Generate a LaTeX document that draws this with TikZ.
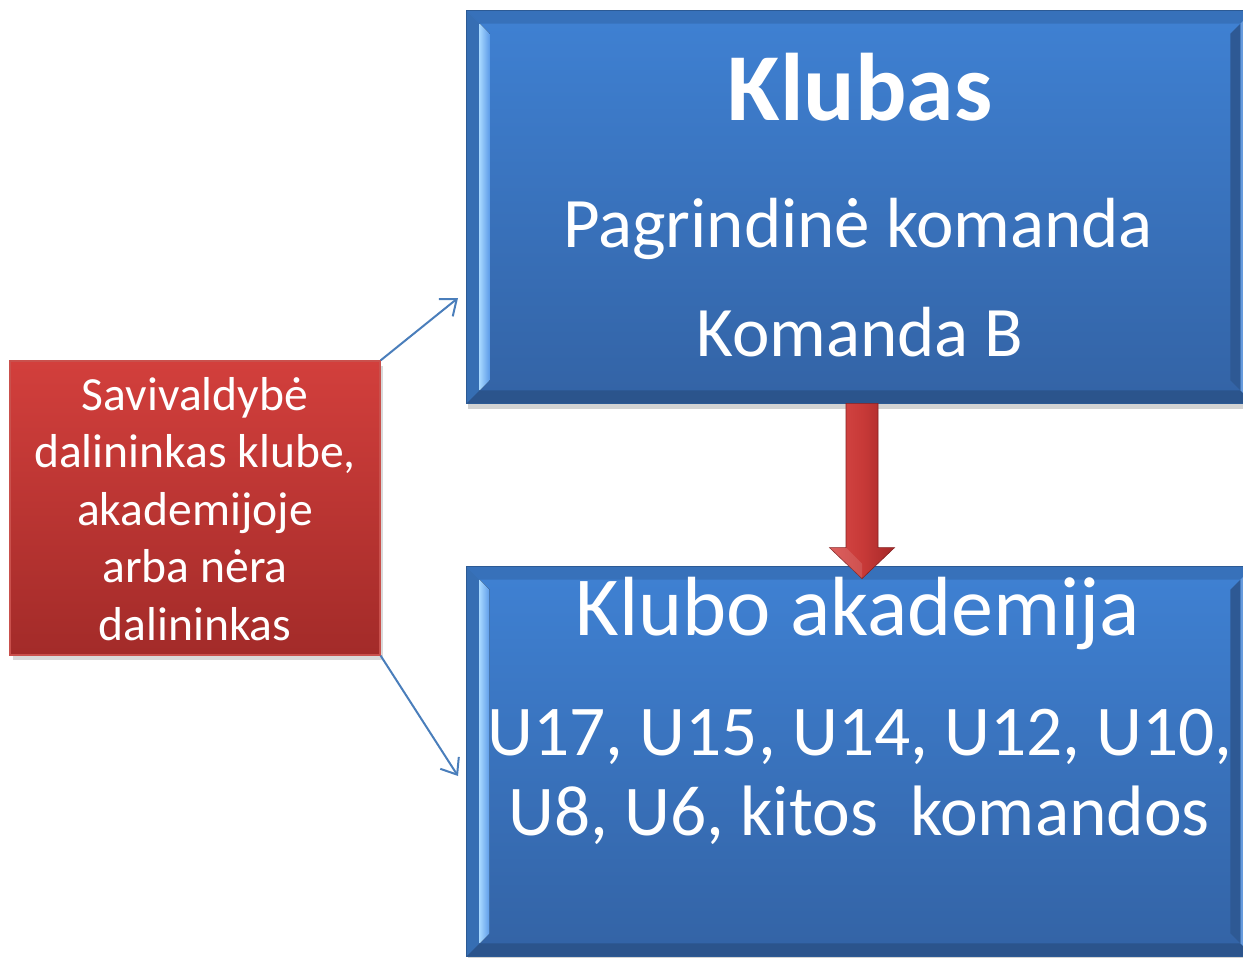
\documentclass[tikz,border=0pt]{standalone}
\usepackage{fontspec}
\setmainfont{Carlito}
\usetikzlibrary{calc,shadows,arrows.meta}
\definecolor{bluetop}{HTML}{3F81D3}
\definecolor{bluebot}{HTML}{3363A5}
\definecolor{blueedge}{HTML}{2C5A94}
\definecolor{bluelight}{HTML}{A5D6FF}
\definecolor{bluelight2}{HTML}{5C9BE8}
\definecolor{redtop}{HTML}{D23F3C}
\definecolor{redbot}{HTML}{A32B29}
\definecolor{rededge}{HTML}{C9504C}
\definecolor{arrowblue}{HTML}{4A7EBB}
\definecolor{arrowredL}{HTML}{D84A48}
\definecolor{arrowredM}{HTML}{C83A38}
\definecolor{arrowredR}{HTML}{A52828}
\newcommand{\mybevel}[1]{%
  \fill[blueedge!40!bluetop] (#1.north west) -- (#1.north east) -- ($(#1.north east)+(-13,13)$) -- ($(#1.north west)+(13,13)$) -- cycle;
  \fill[bluetop!85!black] (#1.north west) -- ($(#1.north west)+(13,13)$) -- ($(#1.south west)+(13,-13)$) -- (#1.south west) -- cycle;
  \fill[bluebot!85!black] (#1.south west) -- (#1.south east) -- ($(#1.south east)+(-13,-13)$) -- ($(#1.south west)+(13,-13)$) -- cycle;
  \fill[bluetop!80!white] (#1.north east) -- (#1.south east) -- ($(#1.south east)+(-13,-13)$) -- ($(#1.north east)+(-13,13)$) -- cycle;
  \fill[left color=bluelight, right color=bluelight2] ($(#1.north west)+(13,13)$) -- ($(#1.north west)+(23,23)$) -- ($(#1.south west)+(23,-23)$) -- ($(#1.south west)+(13,-13)$) -- cycle;
  \fill[bluebot!90!black] ($(#1.north east)+(-13,13)$) -- ($(#1.north east)+(-23,23)$) -- ($(#1.south east)+(-23,-23)$) -- ($(#1.south east)+(-13,-13)$) -- cycle;
  \draw[blueedge, line width=0.6pt] (#1.north west) rectangle (#1.south east);
}
\begin{document}
\begin{tikzpicture}[x=0.5pt,y=-0.5pt,
  bluebox/.style={rectangle, inner sep=0pt, top color=bluetop, bottom color=bluebot,
    minimum width=393pt, drop shadow={shadow xshift=0.5pt, shadow yshift=-3pt, opacity=0.35}},
  redbox/.style={rectangle, inner sep=0pt, top color=redtop, bottom color=redbot,
    draw=rededge, line width=0.6pt, minimum width=185pt, minimum height=147pt,
    drop shadow={shadow xshift=1.5pt, shadow yshift=-2.5pt, opacity=0.3}},
  txt/.style={text=white, inner sep=0pt, anchor=base},
  thinarrow/.style={draw=arrowblue, line width=1pt, -{Straight Barb[length=7pt,width=11pt,line width=1pt]}},
  blockarrow/.style={left color=arrowredL, right color=arrowredR, middle color=arrowredM, draw=arrowredR!80!black, line width=0.3pt}
]
\useasboundingbox (0,0) rectangle (1243,958);

\node[bluebox, minimum height=196pt] (club) at (860,207) {};
\node[bluebox, minimum height=194.5pt] (acad) at (860,761.5) {};
\mybevel{club}
\mybevel{acad}

\node[redbox] (muni) at (195,508) {};

% text in top box
\node[txt, font=\fontsize{48}{58}\selectfont\bfseries] (t1) at (860,120) {Klubas};
\node[txt, font=\fontsize{35.5}{42}\selectfont] (t2) at (858,247) {Pagrindinė komanda};
\node[txt, font=\fontsize{35.5}{42}\selectfont] (t3) at (860,356) {Komanda B};

% text in bottom box
\node[txt, font=\fontsize{42}{48}\selectfont] (t4) at (858,635) {Klubo akademija};
\node[txt, font=\fontsize{35.7}{42}\selectfont] (t5) at (860,755) {U17, U15, U14, U12, U10,};
\node[txt, font=\fontsize{35.7}{42}\selectfont] (t6) at (859,835) {U8, U6, kitos\ \ komandos};

% text in red box (base anchor = last line)
\node[txt, align=center, font=\fontsize{23.8}{28.75}\selectfont] (t7) at (195,640)
  {Savivaldybė\\dalininkas klube,\\akademijoje\\arba nėra\\dalininkas};

% thin connectors
\coordinate (e1) at (458,298);
\coordinate (e2) at (458,776);
\draw[thinarrow] (muni.north east) -- (e1);
\draw[thinarrow] (muni.south east) -- (e2);

% red block arrow
\coordinate (s) at ($(club.south)+(2,0)$);
\coordinate (e) at ($(acad.north)+(2,12)$);
\path[blockarrow] ($(s)+(-16,0)$) -- ($(s)+(16,0)$) -- ($(e)+(16,-31)$) -- ($(e)+(32.5,-31)$) -- (e)
  -- ($(e)+(-32.5,-31)$) -- ($(e)+(-16,-31)$) -- cycle;
\fill[white, opacity=0.12] ($(e)+(-32.5,-31)$) -- ($(e)+(-16,-31)$) -- ($(e)+(0,-15)$) -- (e) -- cycle;
\end{tikzpicture}
\end{document}
